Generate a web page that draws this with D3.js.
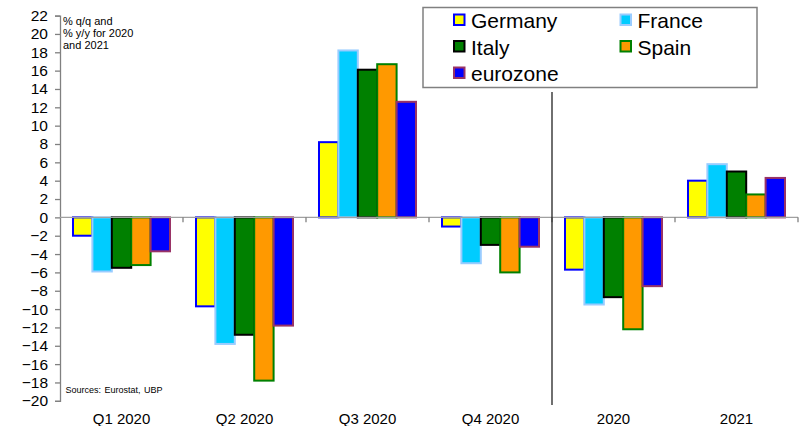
<!DOCTYPE html>
<html>
<head>
<meta charset="utf-8">
<script src="https://cdn.jsdelivr.net/npm/d3@7/dist/d3.min.js"></script>
<style>
  html, body { margin: 0; padding: 0; background: #fff; }
  svg { display: block; font-family: "Liberation Sans", Arial, sans-serif; }
</style>
</head>
<body>
<svg id="chart" width="800" height="426"></svg>
<script>
// Periods on the x axis
const categories = ["Q1 2020", "Q2 2020", "Q3 2020", "Q4 2020", "2020", "2021"];
// Series names
const seriesNames = ["Germany", "France", "Italy", "Spain", "eurozone"];
// GDP growth per series, one value per period
const germany  = [-2.0, -9.7,  8.2, -1.0,  -5.7, 4.0];
const france   = [-5.9, -13.8, 18.2, -5.0, -9.5, 5.8];
const italy    = [-5.5, -12.8, 16.1, -3.0, -8.7, 5.0];
const spain    = [-5.2, -17.8, 16.7, -6.0, -12.2, 2.5];
const eurozone = [-3.7, -11.8, 12.6, -3.2, -7.5, 4.3];
// Y axis tick values
const yTicks = d3.range(-20, 23, 2);

const seriesValues = [germany, france, italy, spain, eurozone];
const fills   = ["#FFFF00", "#00CCFF", "#008000", "#FF9900", "#0000FF"];
const strokes = ["#0000FF", "#99CCFF", "#000000", "#008000", "#993366"];

const svg = d3.select("#chart");
const plotLeft = 60, plotRight = 798, plotTop = 15.6, plotBottom = 400.8;

const y = d3.scaleLinear().domain([-20, 22]).range([plotBottom, plotTop]);
const x0 = d3.scaleBand().domain(categories).range([plotLeft, plotRight]).paddingInner(0).paddingOuter(0);
const x1 = d3.scaleBand().domain(seriesNames).range([0, x0.bandwidth()]).paddingInner(0).paddingOuter(0.67);

// Y axis
const yAxis = svg.append("g")
  .attr("transform", `translate(${plotLeft},0)`)
  .call(d3.axisLeft(y).tickValues(yTicks).tickSize(5).tickPadding(7).tickFormat(d3.format("d")));
yAxis.select(".domain").attr("stroke", "#808080").attr("stroke-width", 1.3);
yAxis.selectAll(".tick line").attr("stroke", "#808080").attr("stroke-width", 1.3);
yAxis.selectAll(".tick text")
  .attr("fill", "#000")
  .style("font-size", "15.5px")
  .style("font-family", "'Liberation Sans', Arial, sans-serif");

// Bars
const groups = svg.append("g").selectAll("g")
  .data(categories)
  .join("g")
  .attr("transform", d => `translate(${x0(d)},0)`);

groups.selectAll("rect")
  .data((c, ci) => seriesNames.map((s, si) => ({ s, si, v: seriesValues[si][ci] })))
  .join("rect")
  .attr("x", d => x1(d.s))
  .attr("width", x1.bandwidth())
  .attr("y", d => y(Math.max(0, d.v)))
  .attr("height", d => Math.abs(y(d.v) - y(0)))
  .attr("fill", d => fills[d.si])
  .attr("stroke", d => strokes[d.si])
  .attr("stroke-width", 2);

// Zero line and category boundary ticks
svg.append("line")
  .attr("x1", plotLeft).attr("x2", plotRight)
  .attr("y1", y(0)).attr("y2", y(0))
  .attr("stroke", "#A0A0A0").attr("stroke-width", 1.3);

svg.append("g").selectAll("line")
  .data(categories.slice(1).concat(["end"]))
  .join("line")
  .attr("x1", d => d === "end" ? plotRight : x0(d))
  .attr("x2", d => d === "end" ? plotRight : x0(d))
  .attr("y1", y(0)).attr("y2", y(0) + 5)
  .attr("stroke", "#808080").attr("stroke-width", 1.3);

// Category labels
svg.append("g").selectAll("text")
  .data(categories)
  .join("text")
  .attr("x", d => x0(d) + x0.bandwidth() / 2)
  .attr("y", 424)
  .attr("text-anchor", "middle")
  .style("font-size", "15px")
  .text(d => d);

// Divider between quarterly and annual figures
svg.append("line")
  .attr("x1", x0("2020")).attr("x2", x0("2020"))
  .attr("y1", 92).attr("y2", 405)
  .attr("stroke", "#222").attr("stroke-width", 1.3);

// Unit note
const note = svg.append("text").style("font-size", "11px");
["% q/q and", "% y/y for 2020", "and 2021"].forEach((t, i) => {
  note.append("tspan").attr("x", 63).attr("y", 25 + i * 12.2).text(t);
});

// Source
svg.append("text")
  .attr("x", 65.5).attr("y", 393)
  .style("font-size", "9px")
  .style("word-spacing", "1px")
  .text("Sources: Eurostat, UBP");

// Legend
const legend = svg.append("g");
legend.append("rect")
  .attr("x", 423).attr("y", 7.5)
  .attr("width", 334).attr("height", 80)
  .attr("fill", "#fff").attr("stroke", "#808080").attr("stroke-width", 1.5);

const legendPos = [
  [453.5, 14], [620, 14],
  [453.5, 40.5], [620, 40.5],
  [453.5, 67]
];
const items = legend.selectAll("g.item")
  .data(seriesNames)
  .join("g")
  .attr("class", "item")
  .attr("transform", (d, i) => `translate(${legendPos[i][0]},${legendPos[i][1]})`);
items.append("rect")
  .attr("x", 0.5).attr("y", 0.5)
  .attr("width", 10.5).attr("height", 10.5)
  .attr("fill", (d, i) => fills[i])
  .attr("stroke", (d, i) => strokes[i])
  .attr("stroke-width", 2);
items.append("text")
  .attr("x", 17.5).attr("y", 14.3)
  .style("font-size", "21px")
  .text(d => d);
</script>
</body>
</html>
